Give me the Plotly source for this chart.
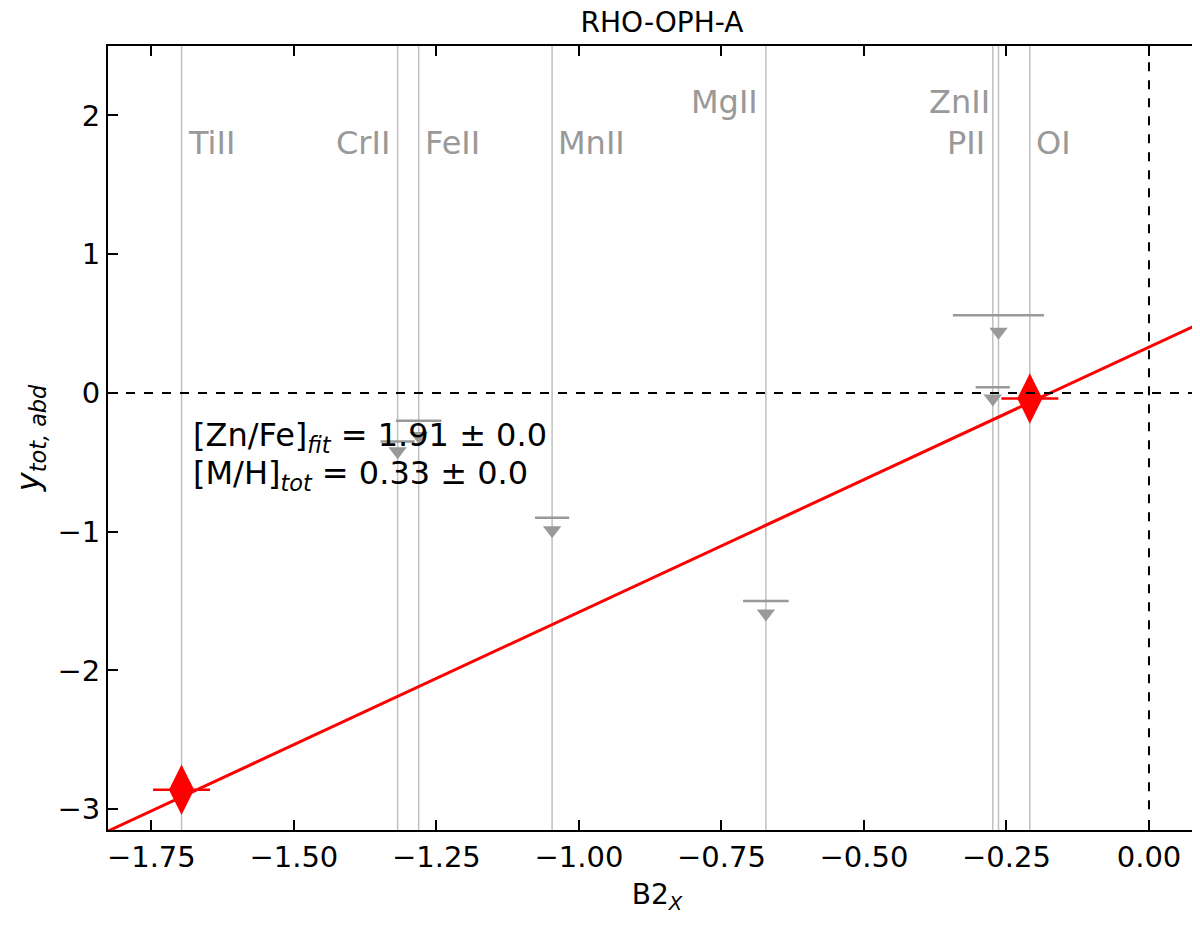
import plotly.graph_objects as go

elements = ["TiII", "CrII", "FeII", "MnII", "MgII", "ZnII", "PII", "OI"]
b2x = [-1.697, -1.318, -1.281, -1.047, -0.672, -0.264, -0.274, -0.209]
label_y = [1.8, 1.8, 1.8, 1.8, 2.1, 2.1, 1.8, 1.8]
label_align = ["left", "right", "left", "left", "right", "right", "right", "left"]

lim_x = [-1.318, -1.281, -1.047, -0.672, -0.264, -0.274]
lim_bar = [-0.35, -0.20, -0.90, -1.50, 0.56, 0.04]
lim_tri = [-0.42, -0.31, -0.99, -1.59, 0.44, -0.04]
lim_xerr = [0.03, 0.04, 0.03, 0.04, 0.08, 0.03]

det_x = [-1.697, -0.209]
det_y = [-2.86, -0.04]
det_xerr = [0.05, 0.05]

slope, intercept = 1.91, 0.33
xr = [-1.826, 0.10]
yr = [-3.15, 2.5]
grey = "#999999"
F = "DejaVu Sans"

fig = go.Figure()
for x in b2x:
    fig.add_shape(type="line", x0=x, x1=x, y0=yr[0], y1=yr[1], line=dict(color="#c0c0c0", width=1.5), layer="below")
fig.add_shape(type="line", x0=xr[0], x1=xr[1], y0=0, y1=0, line=dict(color="black", width=2, dash="dash"))
fig.add_shape(type="line", x0=0, x1=0, y0=-3, y1=yr[1], line=dict(color="black", width=2, dash="dash"))

fig.add_trace(go.Scatter(x=lim_x, y=lim_bar, mode="markers", marker=dict(size=0.1, color=grey),
                         error_x=dict(type="data", array=lim_xerr, color=grey, thickness=2.5, width=0)))
fig.add_trace(go.Scatter(x=lim_x, y=lim_tri, mode="markers", marker=dict(symbol="triangle-down", size=16, color=grey)))
fig.add_trace(go.Scatter(x=xr, y=[intercept + slope * v for v in xr], mode="lines", line=dict(color="red", width=3)))
fig.add_trace(go.Scatter(x=det_x, y=det_y, mode="markers", marker=dict(symbol="diamond-tall", size=36, color="red"),
                         error_x=dict(type="data", array=det_xerr, color="red", thickness=2.5, width=0)))

for e, x, y, a in zip(elements, b2x, label_y, label_align):
    fig.add_annotation(x=x, y=y, text=e, showarrow=False, xanchor=a, yanchor="middle", xshift=4 if a == "left" else -6,
                       font=dict(family=F, size=32, color=grey))

fig.add_annotation(x=-1.68, y=-0.32, text="[Zn/Fe]<sub><i>fit</i></sub> = 1.91 ± 0.0", showarrow=False, xanchor="left",
                   font=dict(family=F, size=32, color="black"))
fig.add_annotation(x=-1.68, y=-0.59, text="[M/H]<sub><i>tot</i></sub> = 0.33 ± 0.0", showarrow=False, xanchor="left",
                   font=dict(family=F, size=32, color="black"))

ax = dict(showgrid=False, zeroline=False, showline=True, linecolor="black", linewidth=2, mirror="ticks",
          ticks="inside", ticklen=10, tickwidth=1.5, tickcolor="black", tickfont=dict(family=F, size=29, color="black"))
fig.update_xaxes(range=xr, tickvals=[-1.75, -1.5, -1.25, -1.0, -0.75, -0.5, -0.25, 0.0], tickformat=".2f",
                 title=dict(text="B2<sub><i>X</i></sub>", font=dict(family=F, size=28, color="black"), standoff=12), **ax)
fig.update_yaxes(range=yr, tickvals=[-3, -2, -1, 0, 1, 2], tickformat="d",
                 title=dict(text="<i>y<sub>tot, abd</sub></i>", font=dict(family=F, size=32, color="black"), standoff=8), **ax)
fig.update_layout(width=1200, height=934, plot_bgcolor="white", paper_bgcolor="white", showlegend=False,
                  margin=dict(l=100, r=0, t=38, b=112),
                  title=dict(text="RHO-OPH-A", x=0.545, xanchor="center", y=0.995, yanchor="top",
                             font=dict(family=F, size=28, color="black")))
fig.write_html("out.html")
